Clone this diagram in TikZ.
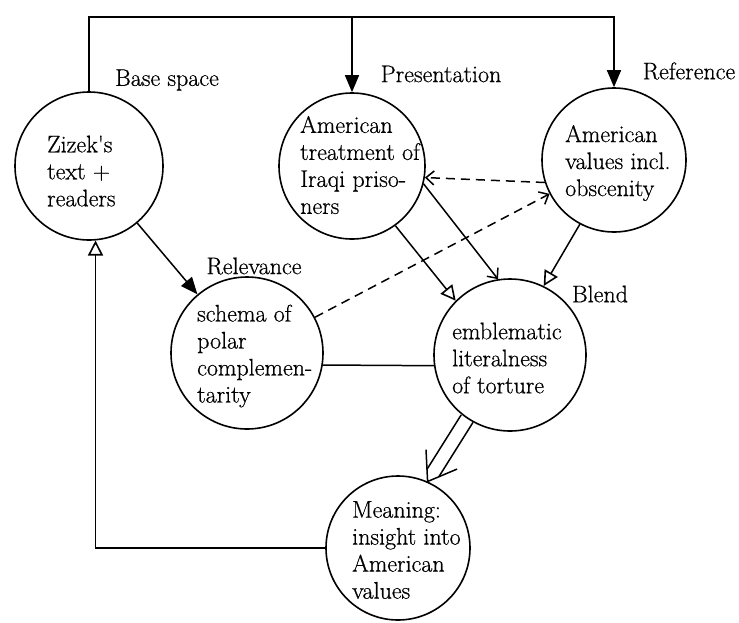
\documentclass[tikz,border=0pt]{standalone}
\usepackage{fontspec}
\setmainfont{Latin Modern Roman}[FakeBold=0.6]
\usetikzlibrary{arrows.meta,calc}
\begin{document}
\begin{tikzpicture}[x=1pt,y=-1pt,
  circ/.style={draw, circle, line width=1.6pt, inner sep=0pt},
  txt/.style={anchor=west, align=left, inner sep=0pt, font=\fontsize{24}{27}\selectfont},
  lbl/.style={inner sep=0pt, font=\fontsize{24}{27}\selectfont},
  conn/.style={line width=1.5pt},
  filled/.style={conn, -{Triangle[length=17pt,width=14pt]}},
  opentri/.style={conn, -{Triangle[open,length=15pt,width=15pt,line width=1.6pt]}},
  barb/.style={conn, -{Straight Barb[length=8pt,width=14pt,line width=1.5pt]}},
  dashline/.style={conn, dash pattern=on 9pt off 6pt},
]
\useasboundingbox (0,0) rectangle (739,622);

% circles
\node[circ, minimum size=148pt] (zizek) at (89,166) {};
\node[circ, minimum size=146pt] (pres) at (352,166) {};
\node[circ, minimum size=144pt] (ref) at (614,160) {};
\node[circ, minimum size=152pt] (schema) at (247,353) {};
\node[circ, minimum size=152pt] (blend) at (510,355) {};
\node[circ, minimum size=144pt] (meaning) at (398,548) {};

% texts
\node[txt] (ztext) at (47,171) {Zizek\textquotesingle s\\text +\\readers};
\node[txt] (ptext) at (300,165) {American\\treatment of\\Iraqi priso-\\ners};
\node[txt] (rtext) at (565,163) {American\\values incl.\\obscenity};
\node[txt] (stext) at (197,356) {schema of\\polar\\complemen-\\tarity};
\node[txt] (btext) at (452,358) {emblematic\\literalness\\of torture};
\node[txt] (mtext) at (352,550) {Meaning:\\insight into\\American\\values};

% labels
\node[lbl] (lbase) at (167,80) {Base space};
\node[lbl] (lpres) at (441,74) {Presentation};
\node[lbl] (lref) at (689,71) {Reference};
\node[lbl] (lrel) at (254,266) {Relevance};
\node[lbl] (lblend) at (600,294) {Blend};

% top connector
\coordinate (tl) at (89,17);
\coordinate (tr) at (614,17);
\draw[filled] (zizek.north) -- (tl) -- (tr) -- (ref.north);
\draw[filled] (pres.north |- tl) -- (pres.north);

% other connectors
\draw[filled] (zizek) -- (schema);
\draw[dashline, -{Straight Barb[length=8pt,width=14pt,line width=1.5pt]}] (schema) -- (ref);
\draw[dashline, -{Straight Barb[length=8pt,width=14pt,line width=1.5pt]}] (ref.198) -- (pres.351);
\draw[barb] (pres.346) -- (blend.99);
\draw[opentri] (pres.306) -- (blend.135);
\draw[opentri] (ref.242) -- (blend.64);
\draw[conn] (schema.351) -- (blend.188);

% double arrow blend -> meaning
\coordinate (S) at (blend.236);
\coordinate (T) at (meaning.66);
\coordinate (Tb) at ($(T)!10pt!(S)$);
\draw[conn] ($(S)!7pt!90:(T)$) -- ($(Tb)!7pt!-90:(S)$);
\draw[conn] ($(S)!7pt!-90:(T)$) -- ($(Tb)!7pt!90:(S)$);
\draw[conn, line join=miter] ($(T)!32pt!35:(S)$) -- (T) -- ($(T)!32pt!-35:(S)$);

\draw[opentri] (meaning.west) -| (zizek.275);
\end{tikzpicture}
\end{document}
